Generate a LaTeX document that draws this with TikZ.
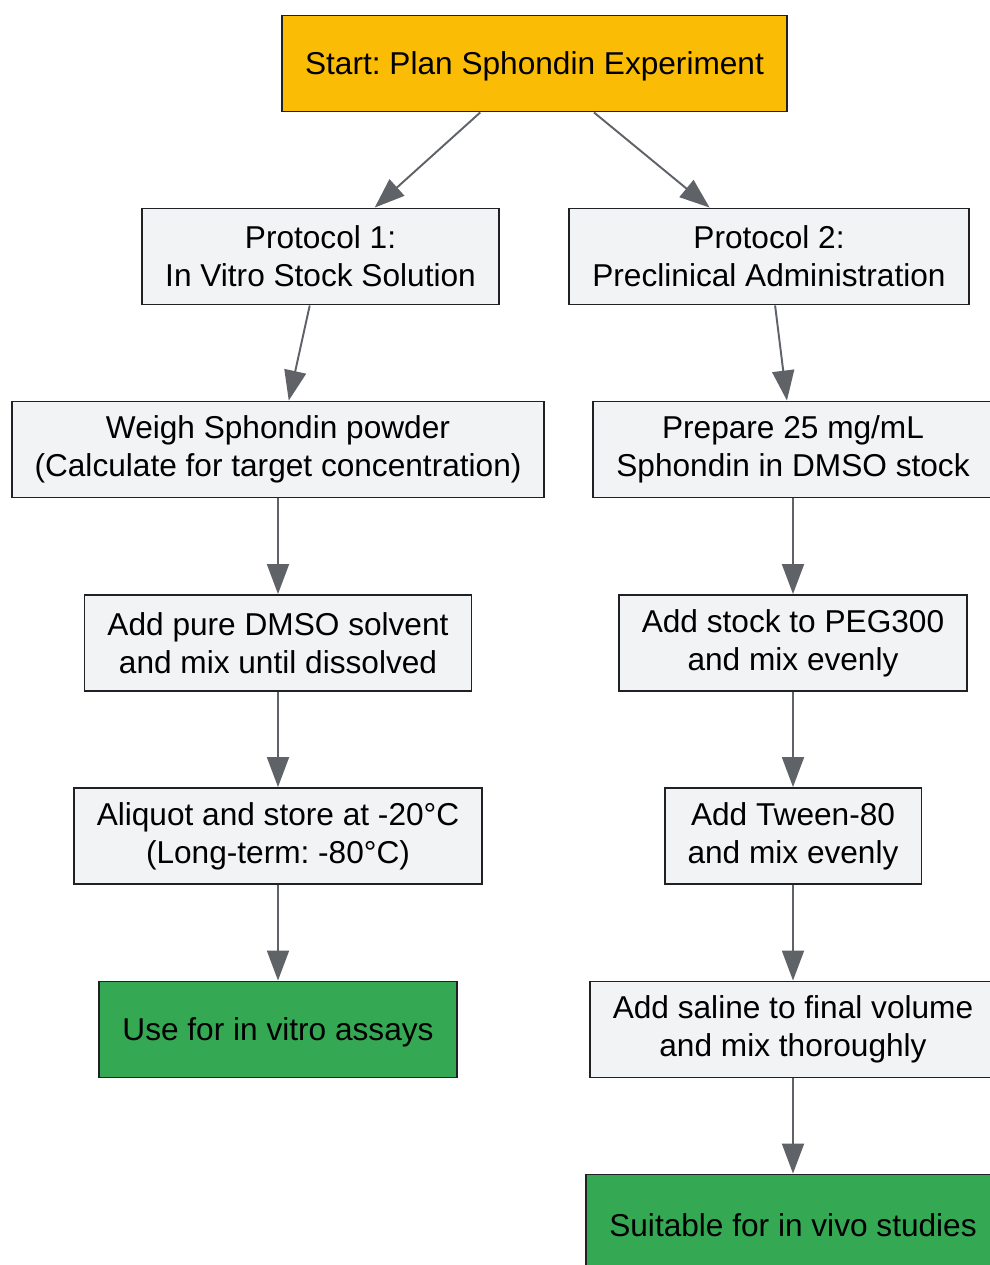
\documentclass[tikz,border=0pt]{standalone}
\usepackage{fontspec}
\setmainfont{Liberation Sans}
\frenchspacing
\usepackage{xcolor}
\usepackage{tikz}
\usetikzlibrary{arrows.meta, positioning}

\definecolor{startgold}{HTML}{FBBC05}
\definecolor{boxgray}{HTML}{F1F3F4}
\definecolor{donegreen}{HTML}{34A853}
\definecolor{linegray}{HTML}{5F6368}
\definecolor{borderdark}{HTML}{202124}

\tikzset{
  stepbox/.style={draw=borderdark, line width=1.1pt, fill=boxgray,
                  align=center, minimum height=1.92cm, inner xsep=0.46cm,
                  font=\fontsize{18}{21.6}\selectfont,
                  execute at begin node={\rule{0pt}{16.5pt}}},
  startbox/.style={stepbox, fill=startgold},
  donebox/.style={stepbox, fill=donegreen},
  flow/.style={draw=linegray, line width=1.1pt,
               -{Triangle[length=0.6cm, width=0.44cm]}}
}

\begin{document}
\begin{tikzpicture}[x=0.02cm, y=-0.02cm]
\clip (0,0) rectangle (990,1265);
\fill[white] (0,0) rectangle (990,1265);

% top
\node[startbox] (start) at (534.5,63.5) {Start: Plan Sphondin Experiment};

% protocol 1
\node[stepbox] (proto1) at (320.5,256.5) {Protocol 1:\\In Vitro Stock Solution};
\node[stepbox] (weigh) at (278,449.5) {Weigh Sphondin powder\\(Calculate for target concentration)};
\node[stepbox] (dmso) at (278,643) {Add pure DMSO solvent\\and mix until dissolved};
\node[stepbox] (aliquot) at (278,836) {Aliquot and store at -20°C\\(Long-term: -80°C)};
\node[donebox] (vitro) at (278,1029.5) {Use for in vitro assays};

% protocol 2
\node[stepbox] (proto2) at (769,256.5) {Protocol 2:\\Preclinical Administration};
\node[stepbox] (stock) at (793,449.5) {Prepare 25 mg/mL\\Sphondin in DMSO stock};
\node[stepbox] (peg) at (793,643) {Add stock to PEG300\\and mix evenly};
\node[stepbox] (tween) at (793,836) {Add Tween-80\\and mix evenly};
\node[stepbox] (saline) at (793,1029.5) {Add saline to final volume\\and mix thoroughly};
\node[donebox] (vivo) at (793,1222.5) {Suitable for in vivo studies};

% arrows
\draw[flow] (start) -- (proto1);
\draw[flow] (start) -- (proto2);
\draw[flow] (proto1) -- (weigh);
\draw[flow] (weigh) -- (dmso);
\draw[flow] (dmso) -- (aliquot);
\draw[flow] (aliquot) -- (vitro);
\draw[flow] (proto2) -- (stock);
\draw[flow] (stock) -- (peg);
\draw[flow] (peg) -- (tween);
\draw[flow] (tween) -- (saline);
\draw[flow] (saline) -- (vivo);
\end{tikzpicture}
\end{document}
